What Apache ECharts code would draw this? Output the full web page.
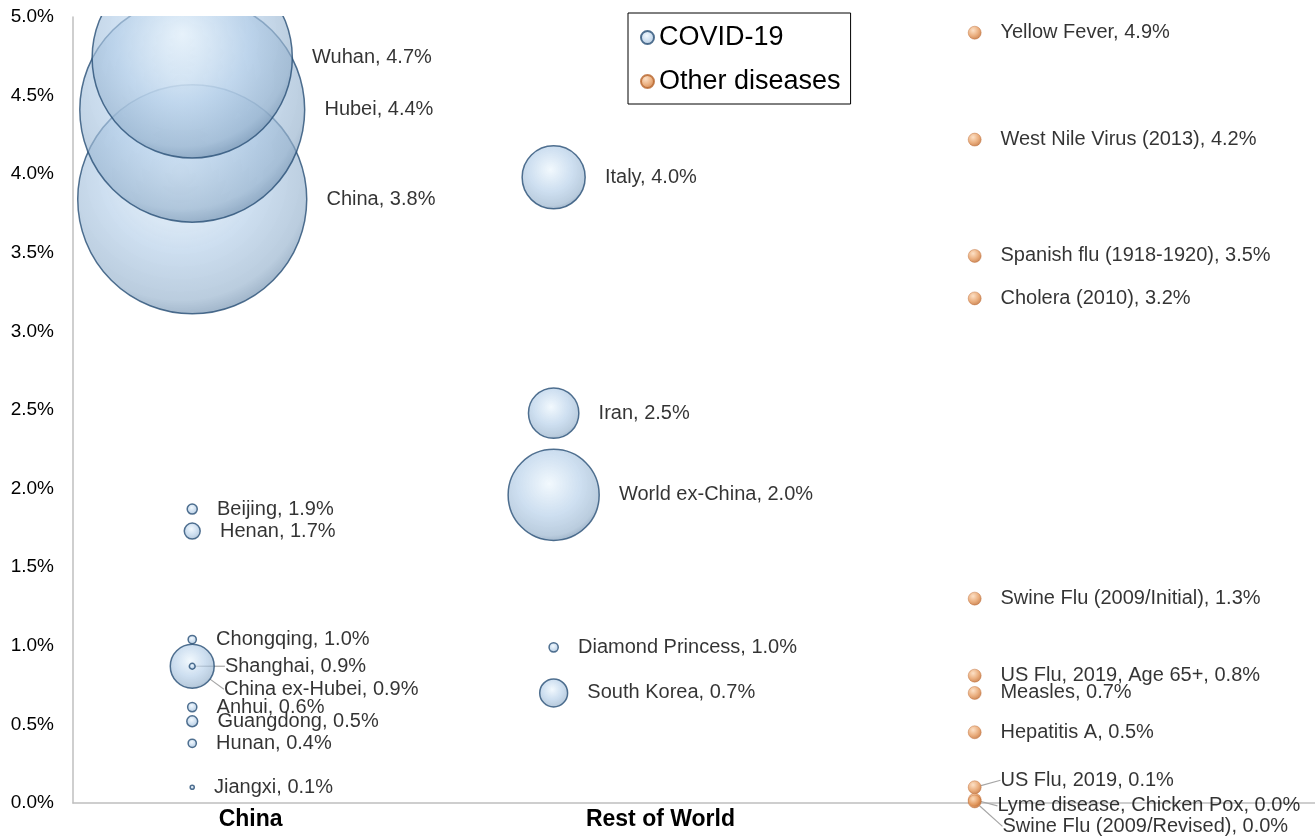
<!DOCTYPE html>
<html>
<head>
<meta charset="utf-8">
<script src="https://cdn.jsdelivr.net/npm/echarts@6/dist/echarts.min.js"></script>
<style>
  html, body { margin: 0; padding: 0; background: #fff; }
  #main { width: 1315px; height: 838px; }
</style>
</head>
<body>
<div id="main"></div>
<script>
// COVID-19 - China (y = case fatality rate %, size = deaths)
const chinaNames = ['China', 'Hubei', 'Wuhan', 'Henan', 'Beijing', 'China ex-Hubei', 'Shanghai', 'Chongqing', 'Anhui', 'Guangdong', 'Hunan', 'Jiangxi'];
const chinaRate = [3.84, 4.41, 4.74, 1.73, 1.87, 0.87, 0.87, 1.04, 0.61, 0.52, 0.38, 0.10];
const chinaDeaths = [3100, 2990, 2370, 15, 6, 114, 2, 4, 5, 7, 4, 1];

// COVID-19 - rest of world
const rowNames = ['World ex-China', 'Italy', 'Iran', 'South Korea', 'Diamond Princess'];
const rowRate = [1.96, 3.98, 2.48, 0.70, 0.99];
const rowDeaths = [490, 235, 150, 46, 5];

// other diseases
const otherNames = ['Yellow Fever', 'West Nile Virus (2013)', 'Spanish flu (1918-1920)', 'Cholera (2010)', 'Swine Flu (2009/Initial)', 'US Flu, 2019, Age 65+', 'Measles', 'Hepatitis A', 'US Flu, 2019', 'Lyme disease, Chicken Pox', 'Swine Flu (2009/Revised)'];
const otherRate = [4.90, 4.22, 3.48, 3.21, 1.30, 0.81, 0.70, 0.45, 0.10, 0.02, 0.01];

// x-axis
const categories = ['China', 'Rest of World'];
const categoryLabelX = [14.3, 47.3];
const columnX = [9.6, 38.7, 72.6];

const BUBBLE_PX = 229;   // diameter of the China bubble
const bubbleRef = chinaDeaths[0];
const FONT = 'Liberation Sans, Arial, sans-serif';

// labels pushed off their default place (with leader lines)
const labelShift = {
  'Shanghai': [10, 0],
  'China ex-Hubei': [-10, 23],
  'US Flu, 2019': [0, -7],
  'Lyme disease, Chicken Pox': [-3, 6],
  'Swine Flu (2009/Revised)': [2, 25]
};

const covidNames = chinaNames.concat(rowNames);
const covidData = chinaNames.map((n, i) => ({ name: n, value: [columnX[0], chinaRate[i], chinaDeaths[i]] }))
  .concat(rowNames.map((n, i) => ({ name: n, value: [columnX[1], rowRate[i], rowDeaths[i]] })));
const otherData = otherNames.map((n, i) => ({ name: n, value: [columnX[2], otherRate[i]] }));
[covidData, otherData].forEach(arr => arr.forEach(d => {
  if (labelShift[d.name]) d.labelLine = { show: true };
}));

const fmtLabel = p => p.name + ', ' + (Math.round(p.value[1] * 10) / 10).toFixed(1) + '%';
const shiftFn = names => params => {
  const s = labelShift[names[params.dataIndex]];
  return s ? { dx: s[0], dy: s[1] } : {};
};

const labelStyle = {
  show: true,
  position: 'right',
  distance: 19,
  fontSize: 20,
  fontFamily: FONT,
  color: '#000',
  formatter: fmtLabel
};

let myChart = echarts.init(document.getElementById('main'));
let option = {
  animation: false,
  grid: { left: 73, right: 0, top: 17, bottom: 35 },
  legend: {
    data: ['COVID-19', 'Other diseases'],
    orient: 'vertical',
    left: 628,
    top: 13,
    borderColor: '#000',
    borderWidth: 1,
    padding: [11, 10, 9, 12],
    itemGap: 17,
    itemWidth: 13,
    itemHeight: 13,
    icon: 'circle',
    textStyle: { fontSize: 27, fontFamily: FONT, color: '#000', padding: [0, 0, 0, 0] }
  },
  // hide the part of the Wuhan bubble above the plot area
  graphic: [{
    type: 'rect',
    left: 74, top: 0, z: 100,
    shape: { width: 540, height: 16 },
    style: { fill: '#fff' }
  }],
  xAxis: {
    type: 'value',
    min: 0,
    max: 100,
    splitLine: { show: false },
    axisTick: { show: false },
    axisLine: { show: true, lineStyle: { color: '#bfbfbf', width: 1.5 } },
    axisLabel: {
      customValues: categoryLabelX,
      margin: 5,
      fontSize: 23,
      fontWeight: 'bold',
      fontFamily: FONT,
      color: '#000',
      formatter: v => {
        const i = categoryLabelX.findIndex(x => Math.abs(x - v) < 0.01);
        return i >= 0 ? categories[i] : '';
      }
    }
  },
  yAxis: {
    type: 'value',
    min: 0,
    max: 5,
    interval: 0.5,
    splitLine: { show: false },
    axisTick: { show: false },
    axisLine: { show: true, lineStyle: { color: '#bfbfbf', width: 1.5 } },
    axisLabel: {
      margin: 19,
      fontSize: 19,
      fontFamily: FONT,
      color: '#000',
      formatter: v => v.toFixed(1) + '%'
    }
  },
  series: [
    {
      name: 'COVID-19',
      type: 'scatter',
      data: covidData,
      symbolSize: v => BUBBLE_PX * Math.sqrt(v[2] / bubbleRef),
      itemStyle: {
        color: {
          type: 'radial', x: 0.45, y: 0.38, r: 0.62,
          colorStops: [
            { offset: 0, color: 'rgba(236,246,253,0.85)' },
            { offset: 0.55, color: 'rgba(178,205,232,0.8)' },
            { offset: 0.9, color: 'rgba(150,178,205,0.82)' },
            { offset: 1, color: 'rgba(120,150,180,0.85)' }
          ]
        },
        borderColor: '#284f76',
        borderWidth: 1.5
      },
      label: labelStyle,
      labelLine: { lineStyle: { color: '#a6a6a6', width: 1.2 } },
      labelLayout: shiftFn(covidNames)
    },
    {
      name: 'Other diseases',
      type: 'scatter',
      clip: false,
      data: otherData,
      symbolSize: 13,
      itemStyle: {
        color: {
          type: 'radial', x: 0.38, y: 0.32, r: 0.7,
          colorStops: [
            { offset: 0, color: '#fcd9b8' },
            { offset: 0.6, color: '#e59a5e' },
            { offset: 1, color: '#c06a2e' }
          ]
        },
        borderColor: '#b8652c',
        borderWidth: 0.5
      },
      label: labelStyle,
      labelLine: { lineStyle: { color: '#a6a6a6', width: 1.2 } },
      labelLayout: shiftFn(otherNames)
    }
  ]
};
option && myChart.setOption(option);
</script>
</body>
</html>
